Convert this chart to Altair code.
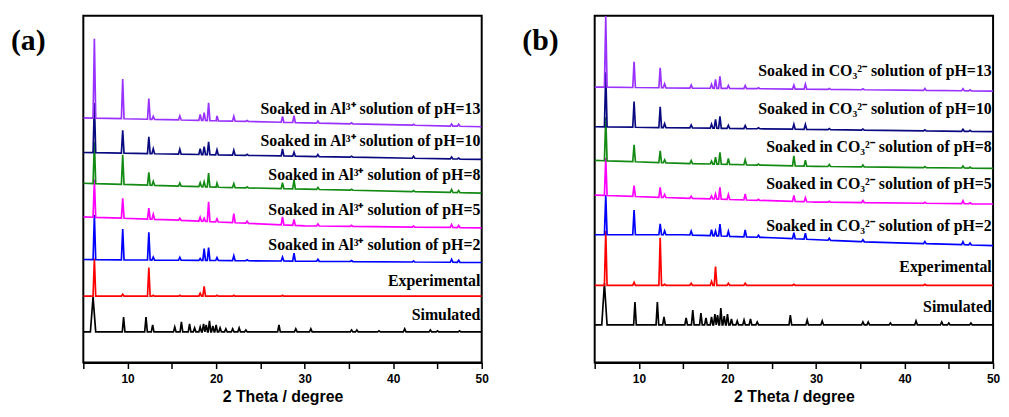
import altair as alt
import numpy as np
import pandas as pd

# ---------------- data ----------------
X_DOMAIN = [5, 50]
Y_DOMAIN = [0, 350]
TICK_VALUES = [5, 10, 15, 20, 25, 30, 35, 40, 45, 50]

SERIES = ["Simulated", "Experimental", "pH=2", "pH=5", "pH=8", "pH=10", "pH=13"]
COLORS = ["#000000", "#FF0000", "#0000FF", "#FF00FF", "#138A13", "#0A0A80", "#9932FF"]

# simulated pattern peak positions (2theta) and heights
SIM_POS = [6.1, 9.55, 12.08, 12.83, 15.33, 16.08, 17.0, 17.57, 18.2, 18.58, 18.88,
           19.25, 19.63, 20.0, 20.45, 21.1, 21.87, 22.6, 23.36, 27.1, 29.0, 30.7,
           35.3, 35.9, 38.4, 41.3, 44.2, 45.0, 47.5]
A_SIM_H = [35, 15, 15, 7, 5, 10, 8, 4, 5, 8, 7, 11, 6, 7, 4, 3, 3, 4, 2, 7, 3, 3,
           2, 2, 1, 3, 2, 1, 1]
B_SIM_H = [42, 23, 23, 8, 7, 15, 12, 7, 8, 11, 10, 17, 9, 11, 6, 4, 5, 6, 3, 10, 5,
           4, 3, 3, 2, 4, 3, 2, 2]

# measured pattern peak positions
MEAS_POS = [6.25, 9.45, 12.4, 12.9, 15.9, 18.2, 18.65, 19.15, 20.1, 22.0, 23.5,
            27.5, 28.8, 31.5, 35.3, 42.3, 46.6, 47.4]

# panel (a) heights
A_EXP_H = [38, 2, 29, 1, 1, 3, 10, 0, 1, 1, 0, 1, 0, 0, 0, 0, 0, 0]
A_PH2_H = [45, 31, 28, 3, 3, 2, 12, 13, 3, 5, 1, 4, 8, 2, 1, 1, 3, 2]
A_PH5_H = [38, 20, 11, 5, 2, 4, 3, 20, 3, 9, 2, 8, 6, 2, 1, 1, 3, 2]
A_PH8_H = [42, 30, 13, 4, 3, 4, 5, 14, 4, 4, 1, 6, 9, 2, 1, 1, 3, 2]
A_PH10_H = [50, 23, 17, 5, 5, 6, 8, 13, 5, 5, 1, 7, 4, 2, 1, 2, 2, 1]
A_PH13_H = [80, 40, 21, 3, 4, 6, 8, 18, 5, 5, 1, 6, 7, 2, 1, 1, 2, 2]

# panel (a) baselines (knot positions, levels)
A_BASE = {
    "Simulated": ([5, 50], [31, 31]),
    "Experimental": ([5, 50], [67, 67]),
    "pH=2": ([5, 50], [104, 101]),
    "pH=5": ([5, 15, 30, 50], [147, 144, 138, 136]),
    "pH=8": ([5, 20, 50], [181, 177, 171]),
    "pH=10": ([5, 50], [212, 205]),
    "pH=13": ([5, 20, 50], [247, 244, 238]),
}

# panel (b) heights
B_EXP_H = [55, 3, 48, 1, 2, 4, 19, 0, 2, 2, 0, 1, 0, 0, 0, 1, 0, 0]
B_PH2_H = [40, 25, 11, 4, 4, 6, 5, 12, 5, 7, 2, 6, 6, 2, 2, 2, 3, 2]
B_PH5_H = [38, 11, 10, 3, 2, 3, 5, 12, 5, 6, 1, 6, 4, 1, 2, 1, 3, 1]
B_PH8_H = [44, 17, 12, 3, 3, 3, 7, 12, 6, 5, 1, 10, 6, 2, 2, 1, 2, 1]
B_PH10_H = [55, 26, 21, 4, 3, 4, 9, 12, 3, 3, 1, 5, 5, 1, 1, 1, 2, 1]
B_PH13_H = [72, 26, 20, 4, 3, 4, 9, 12, 3, 3, 1, 4, 5, 1, 1, 2, 2, 1]

B_BASE = {
    "Simulated": ([5, 50], [38, 38]),
    "Experimental": ([5, 50], [78, 78]),
    "pH=2": ([5, 15, 25, 35, 50], [129, 129, 126, 122, 118]),
    "pH=5": ([5, 15, 30, 50], [169, 166, 162, 160]),
    "pH=8": ([5, 15, 30, 50], [204, 201, 198, 196]),
    "pH=10": ([5, 50], [238, 233]),
    "pH=13": ([5, 50], [278, 274]),
}

A_LABELS = ["Soaked in Al³⁺ solution of pH=13", "Soaked in Al³⁺ solution of pH=10",
            "Soaked in Al³⁺ solution of pH=8", "Soaked in Al³⁺ solution of pH=5",
            "Soaked in Al³⁺ solution of pH=2", "Experimental", "Simulated"]
A_LABEL_Y = [256, 224, 189, 154, 119, 82, 48]
B_LABELS = ["Soaked in CO₃²⁻ solution of pH=13", "Soaked in CO₃²⁻ solution of pH=10",
            "Soaked in CO₃²⁻ solution of pH=8", "Soaked in CO₃²⁻ solution of pH=5",
            "Soaked in CO₃²⁻ solution of pH=2", "Experimental", "Simulated"]
B_LABEL_Y = [294, 256, 217, 180, 138, 96, 56]
LABEL_X = 49.85

# ---------------- styles ----------------
PEAK_HALF = 0.15
MAIN_HALF = 0.3
W_A = 402
W_B = 402
H_PANEL = 350


def build(name, base, pos, hts):
    bx, by = base
    xs, ys = list(bx), list(by)
    for i, (p, h) in enumerate(zip(pos, hts)):
        if h <= 0:
            continue
        w = MAIN_HALF if (name == "Simulated" and i == 0) else PEAK_HALF
        for dx, dh in ((-w, 0.0), (0.0, h), (w, 0.0)):
            xs.append(p + dx)
            ys.append(float(np.interp(p + dx, bx, by)) + dh)
    df = pd.DataFrame({"x": xs, "y": ys})
    df = df[(df.x >= 5) & (df.x <= 50)].sort_values("x")
    df["series"] = name
    return df


def panel_df(base, sim_h, meas):
    frames = [build("Simulated", base["Simulated"], SIM_POS, sim_h)]
    for name, h in zip(SERIES[1:], meas):
        frames.append(build(name, base[name], MEAS_POS, h))
    return pd.concat(frames, ignore_index=True)


df_a = panel_df(A_BASE, A_SIM_H, [A_EXP_H, A_PH2_H, A_PH5_H, A_PH8_H, A_PH10_H, A_PH13_H])
df_b = panel_df(B_BASE, B_SIM_H, [B_EXP_H, B_PH2_H, B_PH5_H, B_PH8_H, B_PH10_H, B_PH13_H])

x_axis = alt.Axis(
    values=TICK_VALUES,
    labelExpr="datum.value % 10 == 0 ? datum.label : ''",
    tickSize=6, tickWidth=1.5, tickColor="black",
    domainColor="black", domainWidth=2,
    labelFont="Liberation Sans", labelFontWeight="bold", labelFontSize=12,
    labelColor="black", labelPadding=5, labelFlush=False,
    title="2 Theta / degree", titleFont="Liberation Sans", titleFontSize=16,
    titleFontWeight="bold", titleColor="black", titlePadding=4, grid=False,
)
x_scale = alt.Scale(domain=X_DOMAIN, nice=False, zero=False)
y_scale = alt.Scale(domain=Y_DOMAIN, nice=False, zero=False)


def make_panel(df, labels, label_y, letter, width):
    lines = alt.Chart(df).mark_line(strokeWidth=1.7, clip=True).encode(
        x=alt.X("x:Q", scale=x_scale, axis=x_axis),
        y=alt.Y("y:Q", scale=y_scale, axis=None),
        color=alt.Color("series:N", scale=alt.Scale(domain=SERIES, range=COLORS), legend=None),
        detail="series:N",
    )
    ldf = pd.DataFrame({"label": labels, "y": label_y, "x": [LABEL_X] * len(labels)})
    texts = alt.Chart(ldf).mark_text(
        align="right", baseline="middle", font="Liberation Serif",
        fontWeight="bold", fontSize=16, color="black",
    ).encode(x=alt.X("x:Q", scale=x_scale), y=alt.Y("y:Q", scale=y_scale), text="label:N")
    let = alt.Chart(pd.DataFrame({"t": [letter]})).mark_text(
        align="left", baseline="middle", font="Liberation Serif",
        fontWeight="bold", fontSize=30, color="black",
    ).encode(x=alt.value(-73), y=alt.value(26), text="t:N")
    return alt.layer(lines, texts, let).properties(width=width, height=H_PANEL)


pa = make_panel(df_a, A_LABELS, A_LABEL_Y, "(a)", W_A)
pb = make_panel(df_b, B_LABELS, B_LABEL_Y, "(b)", W_B)

chart = alt.hconcat(pa, pb, spacing=114, bounds="flush").properties(
    padding={"left": 2, "top": 5, "right": 0, "bottom": 0}
).configure_view(stroke="black", strokeWidth=2)

chart.save("out.html", embed_options={"renderer": "svg", "actions": False})
